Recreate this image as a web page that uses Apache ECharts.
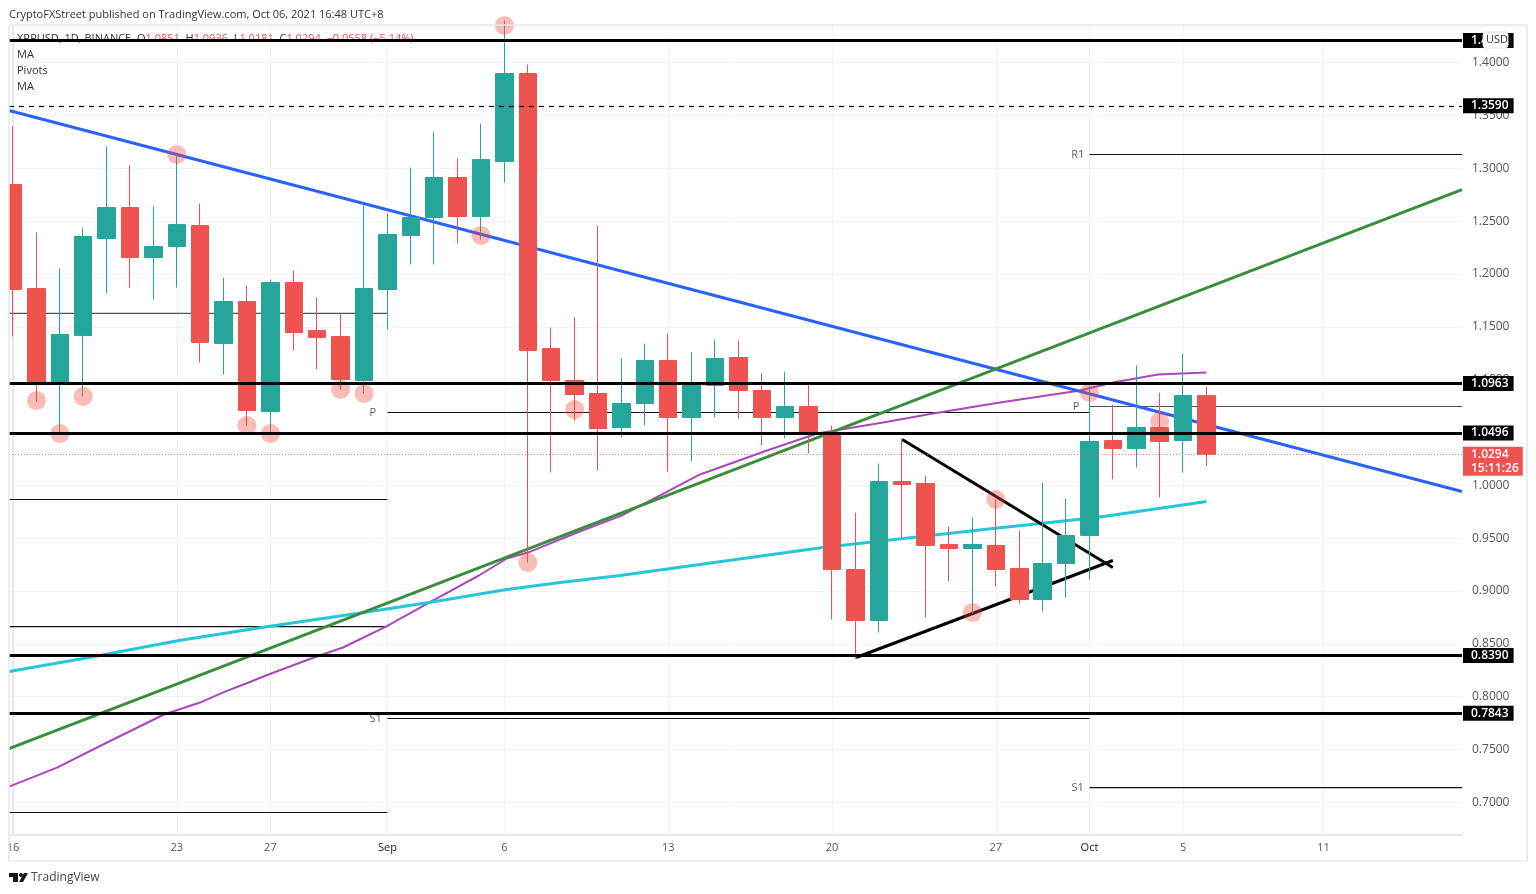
<!DOCTYPE html>
<html>
<head>
<meta charset="utf-8">
<title>XRPUSD</title>
<style>
html, body { margin: 0; padding: 0; background: #fff; }
#chart { width: 1536px; height: 894px; }
</style>
<script src="https://cdn.jsdelivr.net/npm/echarts@6/dist/echarts.min.js"></script>
</head>
<body>
<div id="chart"></div>
<script>
// daily candles, index 0 = Aug 16 2021
var opens = [1.2846, 1.1862, 1.0970, 1.1417, 1.2335, 1.2628, 1.2155, 1.2259, 1.2458, 1.1342, 1.1739, 1.0698, 1.1919, 1.1465, 1.1408, 1.0992, 1.1853, 1.2363, 1.2534, 1.2912, 1.2543, 1.3063, 1.3896, 1.1294, 1.0992, 1.0869, 1.0547, 1.0774, 1.1181, 1.0642, 1.0944, 1.1209, 1.0897, 1.0642, 1.0746, 1.0490, 0.9204, 0.8721, 1.0036, 1.0017, 0.9440, 0.9402, 0.9431, 0.9213, 0.8920, 0.9260, 0.9525, 1.0424, 1.0349, 1.0547, 1.0424, 1.0851];
var closes = [1.1853, 1.0970, 1.1427, 1.2354, 1.2628, 1.2155, 1.2259, 1.2467, 1.1351, 1.1739, 1.0708, 1.1919, 1.1446, 1.1398, 1.1001, 1.1862, 1.2373, 1.2534, 1.2912, 1.2543, 1.3082, 1.3896, 1.1275, 1.0992, 1.0859, 1.0538, 1.0774, 1.1181, 1.0642, 1.0963, 1.1200, 1.0897, 1.0642, 1.0746, 1.0481, 0.9204, 0.8721, 1.0036, 1.0008, 0.9431, 0.9402, 0.9440, 0.9204, 0.8920, 0.9260, 0.9525, 1.0415, 1.0349, 1.0547, 1.0415, 1.0850, 1.0294];
var lows = [1.1408, 1.0793, 1.0490, 1.0840, 1.1815, 1.1871, 1.1758, 1.1871, 1.1162, 1.1048, 1.0566, 1.0490, 1.1275, 1.1096, 1.0906, 1.0869, 1.1474, 1.2089, 1.2089, 1.2288, 1.2326, 1.2865, 0.9270, 1.0121, 1.0613, 1.0140, 1.0452, 1.0566, 1.0131, 1.0225, 1.0642, 1.0632, 1.0377, 1.0443, 1.0301, 0.8731, 0.8361, 0.8607, 0.9507, 0.8750, 0.9090, 0.8787, 0.9043, 0.8882, 0.8806, 0.8939, 0.9109, 1.0055, 1.0168, 0.9885, 1.0121, 1.0181];
var highs = [1.3395, 1.2392, 1.2051, 1.2439, 1.3205, 1.3026, 1.2638, 1.3130, 1.2666, 1.1966, 1.1890, 1.1947, 1.2032, 1.1777, 1.1625, 1.2647, 1.2571, 1.3007, 1.3347, 1.3092, 1.3423, 1.4397, 1.3981, 1.1493, 1.1588, 1.2458, 1.1200, 1.1342, 1.1436, 1.1257, 1.1380, 1.1370, 1.1058, 1.1076, 1.0973, 1.0566, 0.9743, 1.0206, 1.0443, 1.0093, 0.9610, 0.9695, 0.9866, 0.9573, 1.0027, 0.9875, 1.0944, 1.0765, 1.1134, 1.0878, 1.1247, 1.0936];

// moving averages, read at a few days
var purpleDays = [-0.17, 1.88, 4.02, 6.45, 7.99, 9.06, 9.96, 11.03, 12.86, 14.1, 15.94, 17.78, 19.91, 21.1, 22, 24, 26, 29.36, 32.22, 34.36, 37.18, 39.32, 42.18, 45.6, 47, 48.93, 51];
var purplePrices = [0.7150, 0.7330, 0.7567, 0.7832, 0.7945, 0.8049, 0.8125, 0.8220, 0.8371, 0.8466, 0.8664, 0.8891, 0.9147, 0.9308, 0.9364, 0.9544, 0.9714, 1.0103, 1.0329, 1.0490, 1.0594, 1.0679, 1.0783, 1.0897, 1.0973, 1.1048, 1.1067];
var cyanDays = [-0.17, 3.25, 7.09, 10.9, 14.7, 17.78, 21.1, 23.38, 25.94, 34.6, 41.88, 46.3, 51];
var cyanPrices = [0.8239, 0.8371, 0.8532, 0.8664, 0.8787, 0.8891, 0.9014, 0.9081, 0.9147, 0.9412, 0.9592, 0.9696, 0.9847];

// horizontal levels
var levelPrices = [1.4208, 1.0963, 1.0496, 0.8390, 0.7843];
var dashedPrice = 1.3590;
var lastPrice = 1.0294;
var countdown = '15:11:26';

// pivot segments: from day, to day, price
var pivotFrom = [-0.17, 16, -0.17, -0.17, -0.17, 16, 46, 46, 46];
var pivotTo = [16, 46, 16, 16, 16, 46, 61.92, 61.92, 61.92];
var pivotPrices = [1.1626, 1.0689, 0.9866, 0.8664, 0.6905, 0.7794, 1.0746, 1.3130, 0.7141];
var pivotTexts = ['P', 'S1', 'P', 'R1', 'S1'];
var pivotTextDays = [15.38, 15.5, 45.43, 45.5, 45.5];
var pivotTextPrices = [1.0689, 0.7794, 1.0746, 1.3130, 0.7141];

// trend lines
var blueDays = [-0.17, 61.92];
var bluePrices = [1.3546, 0.9941];
var greenDays = [-0.17, 61.92];
var greenPrices = [0.7510, 1.2798];
var upperDays = [38, 47];
var upperPrices = [1.0433, 0.9223];
var lowerDays = [36.03, 47];
var lowerPrices = [0.8371, 0.9289];

// pink touch markers
var touchDays = [1, 2, 3, 7, 10, 11, 14, 15, 20, 21, 22, 24, 41, 42, 46, 49];
var touchPrices = [1.0802, 1.0490, 1.0840, 1.3130, 1.0566, 1.0490, 1.0906, 1.0869, 1.2363, 1.4350, 0.9270, 1.0717, 0.8797, 0.9866, 1.0878, 1.0604];

// axes
var xTickDays = [0, 7, 11, 16, 21, 28, 35, 42, 46, 50, 56];
var xTickLabels = ['16', '23', '27', 'Sep', '6', '13', '20', '27', 'Oct', '5', '11'];
var yTicks = [0.70, 0.75, 0.80, 0.85, 0.90, 0.95, 1.00, 1.05, 1.10, 1.15, 1.20, 1.25, 1.30, 1.35, 1.40];

var FONT = '"Open Sans", "Noto Sans", sans-serif';
var RED = '#ef5350', GREEN = '#26a69a';

var chart = echarts.init(document.getElementById('chart'), null, {renderer: 'canvas'});

function pairs(xs, ys) {
    return xs.map(function (x, i) {
        return [x, ys[i]];
    });
}

function lineSeries(name, xs, ys, color, width) {
    return {
        name: name,
        type: 'line',
        z: 2,
        symbol: 'none',
        silent: true,
        data: pairs(xs, ys),
        lineStyle: {color: color, width: width}
    };
}

var tagLabel = {
    show: true,
    position: 'end',
    distance: 1,
    color: '#fff',
    backgroundColor: '#000',
    fontFamily: FONT,
    fontSize: 12,
    fontWeight: 600,
    padding: [2, 5, 1, 8],
    formatter: function (p) {
        return p.value.toFixed(4);
    }
};

var series = [];

// pivots under everything
pivotPrices.forEach(function (price, i) {
    series.push(lineSeries('pivot' + i, [pivotFrom[i], pivotTo[i]], [price, price], i == 6 || i == 0 ? '#555' : '#111', 1.2));
});

series.push(lineSeries('purple', purpleDays, purplePrices, '#ab47bc', 2));
series.push(lineSeries('cyan', cyanDays, cyanPrices, '#26c6da', 3));
series.push(lineSeries('blue', blueDays, bluePrices, '#2962ff', 3));
series.push(lineSeries('green', greenDays, greenPrices, '#388e3c', 3));
series.push(lineSeries('upper', upperDays, upperPrices, '#000', 3));
series.push(lineSeries('lower', lowerDays, lowerPrices, '#000', 3));

series.push({
    name: 'levels',
    type: 'line',
    z: 2,
    data: [],
    markLine: {
        silent: true,
        symbol: 'none',
        animation: false,
        precision: 4,
        lineStyle: {color: '#000', width: 3, type: 'solid'},
        label: tagLabel,
        data: levelPrices.map(function (v) {
            return {yAxis: v};
        }).concat([{
            yAxis: dashedPrice,
            lineStyle: {color: '#000', width: 1.2, type: [5, 5]}
        }])
    }
});

series.push({
    name: 'last',
    type: 'line',
    z: 2,
    data: [],
    markLine: {
        silent: true,
        symbol: 'none',
        animation: false,
        precision: 4,
        lineStyle: {color: 'rgba(239, 83, 80, 0.7)', width: 1, type: [1, 2]},
        label: {
            show: true,
            position: 'end',
            distance: 1,
            offset: [0, 7],
            color: '#fff',
            backgroundColor: RED,
            fontFamily: FONT,
            fontSize: 12,
            fontWeight: 600,
            lineHeight: 14,
            padding: [1, 4, 0, 8],
            formatter: function (p) {
                return p.value.toFixed(4) + '\n' + countdown;
            }
        },
        data: [{yAxis: lastPrice}]
    }
});

series.push({
    name: 'XRPUSD',
    type: 'candlestick',
    z: 3,
    barWidth: 18,
    silent: true,
    encode: {x: 0, y: [1, 2, 3, 4]},
    data: opens.map(function (o, i) {
        return [i, o, closes[i], lows[i], highs[i]];
    }),
    itemStyle: {color: GREEN, color0: RED, borderColor: GREEN, borderColor0: RED, borderWidth: 1}
});

series.push({
    name: 'touches',
    type: 'scatter',
    z: 4,
    silent: true,
    symbolSize: 19,
    data: pairs(touchDays, touchPrices),
    itemStyle: {color: 'rgba(244, 67, 54, 0.45)'}
});

series.push({
    name: 'pivotText',
    type: 'scatter',
    z: 4,
    silent: true,
    symbolSize: 0,
    data: pivotTexts.map(function (t, i) {
        return {name: t, value: [pivotTextDays[i], pivotTextPrices[i]]};
    }),
    label: {
        show: true,
        position: 'inside',
        color: '#333',
        fontFamily: FONT,
        fontSize: 11,
        formatter: '{b}'
    }
});

var option = {
    animation: false,
    backgroundColor: '#fff',
    grid: {left: 9, top: 25, width: 1453, height: 810, containLabel: false},
    xAxis: {
        type: 'value',
        min: -0.171,
        max: 61.92,
        axisLine: {onZero: false, lineStyle: {color: '#e6e7ee', width: 2}},
        axisTick: {show: false, customValues: xTickDays},
        splitLine: {show: true, lineStyle: {color: '#f2f3f6', width: 1}},
        axisLabel: {
            customValues: xTickDays,
            margin: 7,
            fontFamily: FONT,
            fontSize: 11,
            color: function (v) {
                return (v == 16 || v == 46) ? '#222' : '#555';
            },
            formatter: function (v) {
                return xTickLabels[xTickDays.indexOf(v)];
            }
        }
    },
    yAxis: {
        type: 'value',
        position: 'right',
        min: 0.6692,
        max: 1.4355,
        axisLine: {show: true, lineStyle: {color: '#e6e7ee', width: 2}},
        axisTick: {show: false, customValues: yTicks},
        splitLine: {show: true, lineStyle: {color: '#f2f3f6', width: 1}},
        axisLabel: {
            customValues: yTicks,
            margin: 10,
            fontFamily: FONT,
            fontSize: 12,
            color: '#555',
            formatter: function (v) {
                return v.toFixed(4);
            }
        }
    },
    series: series,
    graphic: [
        // hides the part of the first candle left of the plot
        {type: 'rect', z: 10, silent: true, shape: {x: 0, y: 25, width: 9, height: 812}, style: {fill: '#fff'}},
        // outer frame
        {type: 'rect', z: 11, silent: true, shape: {x: 9, y: 25, width: 1518, height: 836}, style: {fill: 'none', stroke: '#e6e7ee', lineWidth: 1.5}},
        {type: 'text', x: 9, y: 9, style: {text: 'CryptoFXStreet published on TradingView.com, Oct 06, 2021 16:48 UTC+8', fontFamily: FONT, fontSize: 11, fill: '#333'}},
        {
            type: 'text', x: 17, y: 33, z: 5,
            style: {
                rich: {
                    d: {fontFamily: FONT, fontSize: 11, fill: '#333'},
                    r: {fontFamily: FONT, fontSize: 11, fill: RED}
                },
                text: '{d|XRPUSD, 1D, BINANCE  O}{r|1.0851}{d|  H}{r|1.0936}{d|  L}{r|1.0181}{d|  C}{r|1.0294  \u22120.0558 (\u22125.14%)}'
            }
        },
        {type: 'text', x: 17, y: 49, style: {text: 'MA', fontFamily: FONT, fontSize: 11, fill: '#333'}},
        {type: 'text', x: 17, y: 65, style: {text: 'Pivots', fontFamily: FONT, fontSize: 11, fill: '#333'}},
        {type: 'text', x: 17, y: 81, style: {text: 'MA', fontFamily: FONT, fontSize: 11, fill: '#333'}},
        // USD button
        {type: 'rect', z: 20, shape: {x: 1483, y: 32, width: 25, height: 16, r: 3}, style: {fill: '#fff', stroke: '#e0e3eb', lineWidth: 1}},
        {type: 'text', z: 21, x: 1486, y: 34, style: {text: 'USD', fontFamily: FONT, fontSize: 11, fill: '#333'}},
        // TradingView logo
        {type: 'polygon', shape: {points: [[9, 873], [18, 873], [18, 882], [13, 882], [13, 877], [9, 877]]}, style: {fill: '#131722'}},
        {type: 'circle', shape: {cx: 21, cy: 875, r: 2}, style: {fill: '#131722'}},
        {type: 'polygon', shape: {points: [[24, 873], [28, 873], [23, 882], [19, 882]]}, style: {fill: '#131722'}},
        {type: 'text', x: 31, y: 872, style: {text: 'TradingView', fontFamily: FONT, fontSize: 12, fill: '#444'}}
    ]
};

chart.setOption(option);
</script>
</body>
</html>
